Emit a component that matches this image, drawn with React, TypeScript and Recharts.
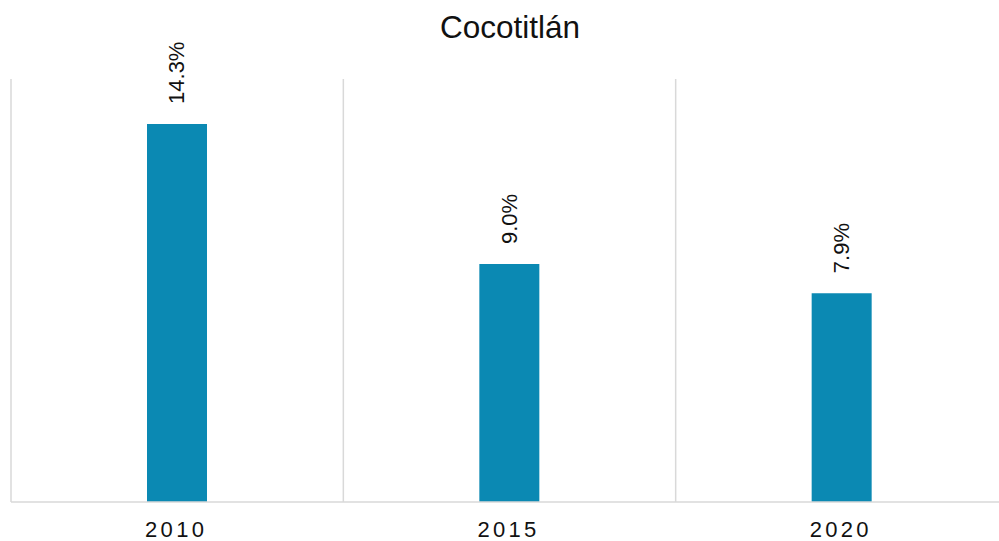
import { Bar, BarChart, CartesianGrid, Customized, LabelList, XAxis, YAxis } from 'recharts';

const YEARS = ['2010', '2015', '2020'];
const SHARE = [14.3, 9.0, 7.9];
const TITLE = 'Cocotitlán';

const FONT = '"Liberation Sans", Arial, sans-serif';
const BAR_COLOR = '#0b89b3';
const GRID = '#d9d9d9';

const data = YEARS.map((year, i) => ({ year, value: SHARE[i] }));

function YearTick({ x, y, payload }: any) {
  return (
    <text
      x={x - 1}
      y={y + 35}
      textAnchor="middle"
      fontFamily={FONT}
      fontSize={22}
      letterSpacing={3.3}
      fill="#111"
    >
      {payload.value}
    </text>
  );
}

function ValueLabel({ x, y, width, value }: any) {
  const cx = Number(x) + Number(width) / 2;
  const cy = Number(y) - 20;
  return (
    <text
      x={cx}
      y={cy}
      transform={`rotate(-90, ${cx}, ${cy})`}
      textAnchor="start"
      dominantBaseline="central"
      fontFamily={FONT}
      fontSize={22}
      fill="#111"
    >
      {`${Number(value).toFixed(1)}%`}
    </text>
  );
}

function Title({ offset }: any) {
  const cx = offset ? offset.left + offset.width / 2 : 510;
  return (
    <text x={cx} y={38} textAnchor="middle" fontFamily={FONT} fontSize={31.5} fill="#111">
      {TITLE}
    </text>
  );
}

export default function App() {
  return (
    <div style={{ position: 'absolute', left: 0, top: 0, width: 999, height: 541, overflow: 'hidden', background: '#fff' }}>
      <BarChart
        width={1008}
        height={541}
        data={data}
        margin={{ top: 79, right: 0, left: 11, bottom: 0 }}
      >
        <CartesianGrid
          horizontal={false}
          stroke={GRID}
          strokeWidth={1.5}
          verticalCoordinatesGenerator={({ offset }: any) =>
            [0, 1, 2, 3].map((i) => offset.left + (i * offset.width) / YEARS.length)
          }
        />
        <XAxis
          dataKey="year"
          height={39}
          tickLine={false}
          tickSize={0}
          tickMargin={0}
          axisLine={{ stroke: GRID, strokeWidth: 1.5 }}
          tick={<YearTick />}
          interval={0}
        />
        <YAxis hide domain={[0, 16]} />
        <Bar dataKey="value" fill={BAR_COLOR} barSize={60} isAnimationActive={false}>
          <LabelList dataKey="value" content={<ValueLabel />} />
        </Bar>
        <Customized component={<Title />} />
      </BarChart>
    </div>
  );
}
